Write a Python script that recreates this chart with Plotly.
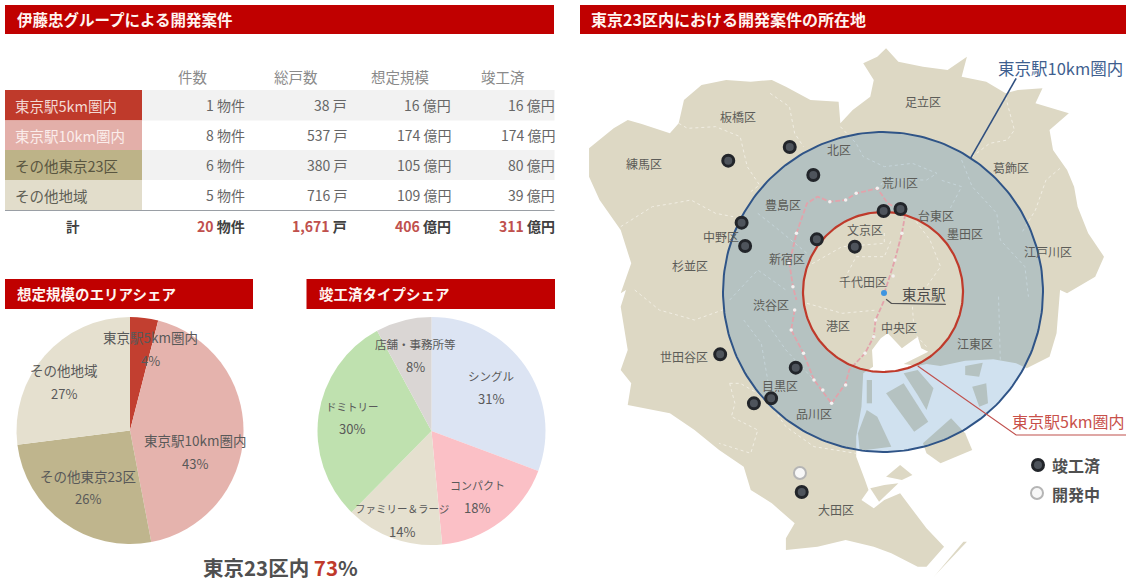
import numpy as np
import plotly.graph_objects as go

FONT = "Noto Sans CJK JP"
RED = "#C00000"
W, H = 1126, 583

# ---------- table ----------
row_names = ["東京駅5km圏内", "東京駅10km圏内", "その他東京23区", "その他地域"]
row_colors = ["#BF3A2B", "#E3AFA9", "#BDB388", "#E2DDCB"]
row_text_colors = ["#F3D9D3", "#FBEDEB", "#5A5640", "#5F5F55"]
col_names = ["件数", "総戸数", "想定規模", "竣工済"]
col_units = ["物件", "戸", "億円", "億円"]
table_values = [
    ["1", "38", "16", "16"],
    ["8", "537", "174", "174"],
    ["6", "380", "105", "80"],
    ["5", "716", "109", "39"],
]
total_values = ["20", "1,671", "406", "311"]

# ---------- pies ----------
area_labels = row_names
area_share = [4, 43, 26, 27]
area_colors = ["#C23F30", "#E5B3AD", "#BFB58D", "#E5E0CF"]
type_labels = ["シングル", "コンパクト", "ファミリー＆ラージ", "ドミトリー", "店舗・事務所等"]
type_share = [31, 18, 14, 30, 8]
type_colors = ["#DCE4F3", "#FBC0C6", "#E5E0CF", "#BFE1AF", "#DAD6D4"]
type_label_sizes = [11.5, 11, 10.5, 10.5, 11.5]

# ---------- map (zoom-sheet coordinates of the source map) ----------
land_north = [(40,445),(110,385),(150,360),(190,372),(270,400),(295,370),(310,300),(360,255),(430,240),(500,245),
              (560,240),(600,260),(670,300),(750,305),(755,370),(790,330),(840,290),(850,240),(820,190),(860,170),
              (885,145),(920,185),(990,200),(1060,210),(1115,170),(1100,230),(1170,245),(1225,280),(1260,270),
              (1330,265),(1310,310),(1405,340),(1350,390),(1360,450),(1400,510),(1420,560),(1430,620),(1460,700),
              (1505,770),(1480,830),(1400,880)]
land_south = [(1380,0),(1370,130),(1350,200),(1285,235),(1255,220),(1190,208),(1110,212),(1040,228),(1000,222),
              (975,228),(935,222),(1005,185),(985,175),(975,140),(930,175),(890,130),(870,145),(845,180),(848,230),
              (820,250),(815,350),(800,440),(800,500),(825,570),(835,600),(815,630),(850,655),(880,630),(925,610),
              (1000,715),(1050,770),(1000,830),(975,830),(900,790),(850,770),(770,750),(690,770),(600,780),(600,745),
              (625,700),(560,640),(500,600),(480,530),(410,480),(340,420),(270,370),(150,345),(160,280),(130,240),
              (150,180),(130,50),(145,0)]
land_west = [(130,880),(160,790),(130,690),(70,600),(40,530)]
islands = [
    [(885,310),(935,280),(1005,395),(965,425)],
    [(935,250),(975,240),(1020,295),(1000,360),(975,315)],
    [(1000,490),(1040,520),(1130,480),(1110,430),(1070,385),(990,460)],
    [(805,430),(830,360),(860,380),(900,470),(810,482)],
    [(830,270),(845,270),(845,340),(830,340)],
    [(1130,290),(1170,280),(1175,340),(1150,350)],
    [(1110,228),(1160,218),(1150,260),(1110,255)],
    [(885,560),(925,525),(960,555),(930,570)],
    [(840,595),(880,585),(920,580),(865,635)],
    [(1020,862),(1030,850),(1115,755),(1105,755)],
]
north_borders = [
    [(555,280),(610,320),(625,400),(650,440)],
    [(295,370),(320,385),(400,380),(470,410),(490,500),(525,555),(500,575)],
    [(130,680),(220,620),(280,610),(330,600),(400,640),(450,650)],
    [(755,380),(800,430),(820,470),(880,500),(960,490),(1030,520),(1000,540),(880,540),(860,570)],
    [(1380,505),(1340,540),(1310,630),(1270,700)],
    [(1225,290),(1250,390),(1230,420),(1180,430),(1130,470)],
    [(1100,480),(1130,560),(1200,640),(1210,720),(1280,800),(1290,890)],
    [(1060,640),(1100,560),(1040,540)],
    [(960,650),(1010,720),(1040,800),(1000,860)],
    [(520,640),(580,690),(660,760)],
    [(440,900),(520,810),(600,870)],
    [(660,800),(760,740),(880,730),(880,690)],
    [(760,850),(800,770),(880,770),(900,720)],
]
south_borders = [
    [(170,0),(240,60),(340,90),(420,60)],
    [(440,280),(470,280),(520,310),(560,350),(600,410),(680,470),(800,490)],
    [(440,280),(455,340),(445,380),(520,420),(500,490),(410,460)],
    [(480,90),(530,160),(550,280)],
    [(540,90),(600,180),(680,270)],
    [(1205,20),(1210,210)],
    [(960,50),(965,130),(1000,170)],
    [(660,40),(760,70),(860,60)],
]
rail_north = [(880,880),(910,780),(930,700),(940,640),(890,610),(860,565),(800,580),(770,600),(725,605),(690,590),
              (660,610),(630,700),(610,790),(620,860),(630,900)]
rail_south = [(625,60),(615,120),(650,190),(680,270),(730,340),(770,280),(780,240),(825,190),(850,140),(855,90),(880,30)]
rail_stops_north = [(910,780),(930,700),(860,565),(800,580),(770,600),(725,605),(630,700),(610,790),(620,860),(905,828)]
rail_stops_south = [(625,60),(615,120),(650,190),(680,270),(705,300),(730,340),(770,285),(825,190),(850,140),(855,90)]
done_north = [(436,482),(611,441),(678,525),(474,668),(484,738),(688,718),(796,740),(878,633),(926,627)]
done_south = [(413,193),(628,233),(509,340),(558,325),(645,606)]
in_progress_south = [(640,549)]
ward_north = [("足立区",990,305),("板橋区",463,350),("練馬区",195,490),("北区",752,447),("葛飾区",1240,503),
              ("荒川区",925,547),("豊島区",592,612),("台東区",1027,647),("文京区",825,687),("墨田区",1110,700),
              ("中野区",415,708),("江戸川区",1345,753),("新宿区",603,775),("杉並区",327,797),("千代田区",818,845)]
ward_south = [("渋谷区",557,43),("港区",747,105),("中央区",922,113),("江東区",1137,160),("世田谷区",310,200),
              ("目黒区",583,287),("品川区",680,370),("大田区",743,657)]
station_line = [(885,28),(900,40),(1055,43)]
outer_leader = [(1255,235),(1125,475)]
inner_leader = [(975,228),(1255,435),(1568,435)]


def n(p):
    return 575 + p[0] / 2.845, p[1] / 3


def s(p):
    return 575 + p[0] / 2.845, 290 + p[1] / 3


def xy(points):
    return [p[0] for p in points], [p[1] for p in points]


def line_trace(points, color, width, dash=None):
    x, y = xy(points)
    return go.Scatter(x=x, y=y, mode="lines", line=dict(color=color, width=width, dash=dash),
                      hoverinfo="skip", showlegend=False)


def poly_trace(points, color):
    x, y = xy(list(points) + [points[0]])
    return go.Scatter(x=x, y=y, mode="lines", fill="toself", fillcolor=color, line=dict(width=0),
                      hoverinfo="skip", showlegend=False)


fig = go.Figure()
LAND = "#DDD8C4"

fig.add_trace(poly_trace([n(p) for p in land_north] + [s(p) for p in land_south] + [n(p) for p in land_west], LAND))
for isl in islands:
    fig.add_trace(poly_trace([s(p) for p in isl], LAND))
for b in north_borders:
    fig.add_trace(line_trace([n(p) for p in b], "#F1EEE3", 1, "dot"))
for b in south_borders:
    fig.add_trace(line_trace([s(p) for p in b], "#F1EEE3", 1, "dot"))

# 10 km ring with the 5 km disc left clear
CX, CY, R10, R5 = 883, 292, 160, 80
t = np.linspace(0, 2 * np.pi, 241)
ring_x = np.r_[CX + R10 * np.cos(t), CX + R5 * np.cos(t[::-1])]
ring_y = np.r_[CY + R10 * np.sin(t), CY + R5 * np.sin(t[::-1])]
fig.add_trace(go.Scatter(x=ring_x, y=ring_y, mode="lines", fill="toself", fillcolor="rgba(40,120,180,0.22)",
                         line=dict(width=0), hoverinfo="skip", showlegend=False))

# rail loop
fig.add_trace(line_trace([n(p) for p in rail_north], "#E2A3AB", 1.8, "5px,2px"))
fig.add_trace(line_trace([s(p) for p in rail_south], "#E2A3AB", 1.8, "5px,2px"))
stops = [n(p) for p in rail_stops_north] + [s(p) for p in rail_stops_south]
fig.add_trace(go.Scatter(x=xy(stops)[0], y=xy(stops)[1], mode="markers",
                         marker=dict(size=3.5, color="#F4F1F1"), hoverinfo="skip", showlegend=False))

# circles
fig.add_trace(go.Scatter(x=CX + R10 * np.cos(t), y=CY + R10 * np.sin(t), mode="lines",
                         line=dict(color="#2F5487", width=2), hoverinfo="skip", showlegend=False))
fig.add_trace(go.Scatter(x=CX + R5 * np.cos(t), y=CY + R5 * np.sin(t), mode="lines",
                         line=dict(color="#BF3A2B", width=2.2), hoverinfo="skip", showlegend=False))
fig.add_trace(line_trace([n(p) for p in outer_leader], "#2F4F7F", 1.6))
fig.add_trace(line_trace([s(p) for p in inner_leader], "#C0504D", 1.2))
fig.add_trace(line_trace([s(p) for p in station_line], "#555555", 1.2))
fig.add_trace(go.Scatter(x=[884], y=[293], mode="markers", marker=dict(size=6, color="#3D95E0"),
                         hoverinfo="skip", showlegend=False))

# projects
done_pts = [n(p) for p in done_north] + [s(p) for p in done_south] + [(1038, 465)]
prog_pts = [s(p) for p in in_progress_south] + [(1037, 493)]
fig.add_trace(go.Scatter(x=xy(done_pts)[0], y=xy(done_pts)[1], mode="markers",
                         marker=dict(size=11, color="#4E545C", line=dict(color="#22252A", width=3)),
                         hoverinfo="skip", showlegend=False))
fig.add_trace(go.Scatter(x=xy(prog_pts)[0], y=xy(prog_pts)[1], mode="markers",
                         marker=dict(size=12, color="#F7F7F7", line=dict(color="#B5B5B5", width=2)),
                         hoverinfo="skip", showlegend=False))

# pies
def domain(cx, cy, r):
    return dict(x=[(cx - r) / W, (cx + r) / W], y=[1 - (cy + r) / H, 1 - (cy - r) / H])


for labels, vals, cols, dom in [
    (area_labels, area_share, area_colors, domain(130, 430.5, 113.5)),
    (type_labels, type_share, type_colors, domain(431.5, 431, 114)),
]:
    fig.add_trace(go.Pie(labels=labels, values=vals, marker=dict(colors=cols, line=dict(width=0)), sort=False,
                         direction="clockwise", rotation=0, textinfo="none", hoverinfo="label+percent",
                         showlegend=False, domain=dom))

shapes = []
annots = []


def rect(x0, y0, x1, y1, color):
    shapes.append(dict(type="rect", xref="x", yref="y", x0=x0, y0=y0, x1=x1, y1=y1,
                       fillcolor=color, line=dict(width=0), layer="below"))


def text(x, y, s_, size=12, color="#595959", anchor="center"):
    x = x + {"left": -2, "right": 2, "center": 0}[anchor]
    annots.append(dict(x=x, y=y, xref="x", yref="y", text=s_, showarrow=False, xanchor=anchor, yanchor="middle",
                       font=dict(family=FONT, size=size, color=color)))


# headers
for x0, y0, x1, y1, title, tx, fs in [
    (5, 5, 554, 34, "伊藤忠グループによる開発案件", 17, 15.5),
    (580, 5, 1126, 34, "東京23区内における開発案件の所在地", 591, 16),
    (5, 279, 253, 309, "想定規模のエリアシェア", 17, 14.5),
    (306.5, 279, 555, 309, "竣工済タイプシェア", 319, 14.5),
]:
    rect(x0, y0, x1, y1, RED)
    text(tx, (y0 + y1) / 2 - 0.5, "<b>" + title + "</b>", fs, "#FFF4F0", "left")

# table
col_right = [245, 347, 451, 554.5]
col_center = [193, 296, 400, 503]
row_top = [90, 120.5, 150, 180]
row_h = [30.5, 29.5, 30, 30]
for cx, name in zip(col_center, col_names):
    text(cx, 76, name, 14.5, "#8A8A8A")
for i, name in enumerate(row_names):
    rect(5, row_top[i], 142, row_top[i] + row_h[i], row_colors[i])
    if i % 2 == 0:
        rect(142, row_top[i], 554.5, row_top[i] + row_h[i], "#F2F2F2")
    cy = row_top[i] + row_h[i] / 2
    text(15, cy, name, 14.5, row_text_colors[i], "left")
    for xr, val, unit in zip(col_right, table_values[i], col_units):
        text(xr, cy, f"{val} {unit}", 14, "#666666", "right")
shapes.append(dict(type="line", xref="x", yref="y", x0=5, x1=554.5, y0=210.5, y1=210.5,
                   line=dict(color="#9A9FA5", width=1.2)))
text(73, 226, "<b>計</b>", 13.5, "#404040")
for xr, val, unit in zip(col_right, total_values, col_units):
    text(xr, 226, f'<b><span style="color:#C0504D">{val}</span> {unit}</b>', 14, "#404040", "right")

# pie labels
area_pos = [(150, 337, 360), (195, 440, 463), (88, 476, 498), (64, 370, 393)]
for (xc, y1, y2), lab, share in zip(area_pos, area_labels, area_share):
    text(xc, y1, lab, 13.5)
    text(xc, y2, f"{share}%", 13)
type_pos = [(491, 376, 398), (477, 485, 507), (402, 508, 531), (352, 406, 428), (415, 344, 366)]
for (xc, y1, y2), lab, share, fs in zip(type_pos, type_labels, type_share, type_label_sizes):
    text(xc, y1, lab, fs)
    text(xc, y2, f"{share}%", 13)

text(280, 566.5, '<b>東京23区内 <span style="color:#C0392B">73</span>%</b>', 20.5, "#505050")

# map labels
for name, x, y in ward_north:
    px, py = n((x, y))
    text(px, py, name, 12, "#5C5C58")
for name, x, y in ward_south:
    px, py = s((x, y))
    text(px, py, name, 12, "#5C5C58")
px, py = n((993, 880))
text(px, py, "東京駅", 14.5, "#4A4A4A")
text(998, 68, "東京駅10km圏内", 16.5, "#3F5F8F", "left")
text(1012, 421, "東京駅5km圏内", 16, "#C8504A", "left")
text(1052, 465, "<b>竣工済</b>", 16, "#505050", "left")
text(1052, 494, "<b>開発中</b>", 16, "#505050", "left")

fig.update_layout(
    width=W, height=H, margin=dict(l=0, r=0, t=0, b=0), autosize=False,
    paper_bgcolor="white", plot_bgcolor="white", showlegend=False,
    xaxis=dict(range=[0, W], visible=False, fixedrange=True),
    yaxis=dict(range=[H, 0], visible=False, fixedrange=True),
    shapes=shapes, annotations=annots,
)
fig.write_html("out.html", config={"displayModeBar": False},
               post_script="document.body.style.margin='0';document.body.style.overflow='hidden';")
